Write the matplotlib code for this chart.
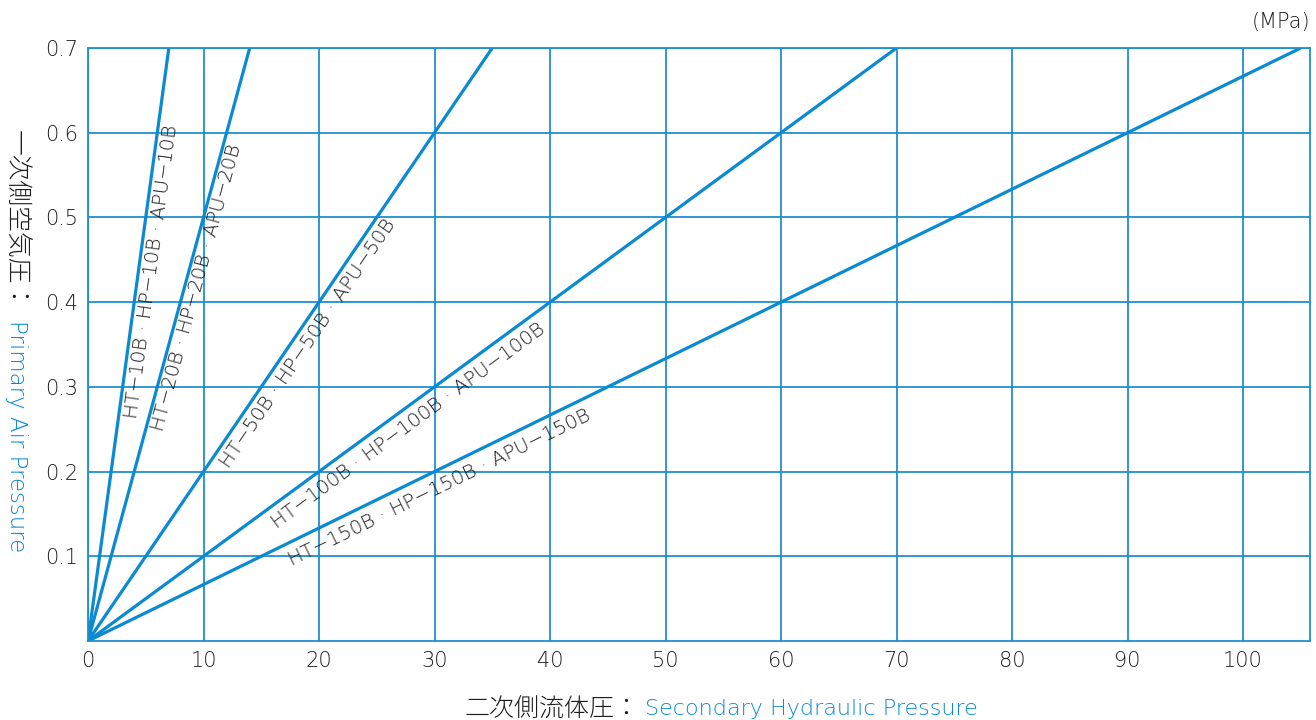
import numpy as np
import matplotlib
matplotlib.use("Agg")
from matplotlib import pyplot as plt

# pressure ratio of each booster model (secondary MPa per primary MPa)
models = ["10B", "20B", "50B", "100B", "150B"]
ratios = [10, 20, 50, 100, 150]
air_max = 0.7

# label centres (data coords), one per model
label_x = [5.5, 9.4, 19.0, 27.7, 30.4]
label_y = [0.436, 0.417, 0.351, 0.254, 0.181]

x_ticks = [0, 10, 20, 30, 40, 50, 60, 70, 80, 90, 100]
y_ticks = [0.1, 0.2, 0.3, 0.4, 0.5, 0.6, 0.7]

blue = "#0a8ad2"
grid_blue = "#1e90d0"
dark = "#1c1c1c"
plt.rcParams["font.family"] = ["DejaVu Sans", "Noto Sans CJK JP"]
jp = ["Noto Sans CJK JP", "DejaVu Sans"]
lw = "light"

fig = plt.figure(figsize=(13.16, 7.2), dpi=100)
ax = fig.add_axes([88 / 1316, 1 - 641 / 720, (1310 - 88) / 1316, (641 - 48) / 720])

ax.set_xlim(0, 105.8)
ax.set_ylim(0, 0.7)
ax.set_xticks(x_ticks)
ax.set_yticks(y_ticks)
ax.set_yticklabels(["%.1f" % v for v in y_ticks])
ax.tick_params(length=0, labelsize=15, labelcolor=dark, pad=7)
for t in ax.get_xticklabels() + ax.get_yticklabels():
    t.set_fontweight(lw)
ax.grid(True, color=grid_blue, linewidth=1.3)
ax.set_axisbelow(True)
for s in ax.spines.values():
    s.set_color(grid_blue)
    s.set_linewidth(1.3)

for m, r, lx, ly in zip(models, ratios, label_x, label_y):
    xe = air_max * r
    ax.plot([0, xe], [0, air_max], color=blue, linewidth=2.3, solid_capstyle="butt")
    ang = np.degrees(np.arctan2(air_max, xe))
    txt = "HT\u2212%s \u00b7 HP\u2212%s \u00b7 APU\u2212%s" % (m, m, m)
    ax.text(lx, ly, txt, rotation=ang, transform_rotates_text=True,
            rotation_mode="anchor", ha="center", va="center",
            fontsize=14.3, color=dark, fontweight=lw)

# axis titles, two colours each
fig.text(640 / 1316, 1 - 709 / 720, "二次側流体圧：", ha="right", va="center",
         fontsize=18, color=dark, family=jp, fontweight=lw)
fig.text(645 / 1316, 1 - 709 / 720, "Secondary Hydraulic Pressure", ha="left", va="center",
         fontsize=16, color=blue, fontweight=lw)
fig.text(16 / 1316, 1 - 130 / 720, "一次側空気圧：", rotation=-90, ha="center", va="top",
         fontsize=18.5, color=dark, family=jp, fontweight=lw)
fig.text(16 / 1316, 1 - 552 / 720, "Primary Air Pressure", rotation=-90, ha="center", va="bottom",
         fontsize=16.5, color=blue, fontweight=lw)
fig.text(1310 / 1316, 1 - 22 / 720, "(MPa)", ha="right", va="center", fontsize=15,
         color=dark, fontweight=lw)

fig.savefig("out.png", dpi=100)
